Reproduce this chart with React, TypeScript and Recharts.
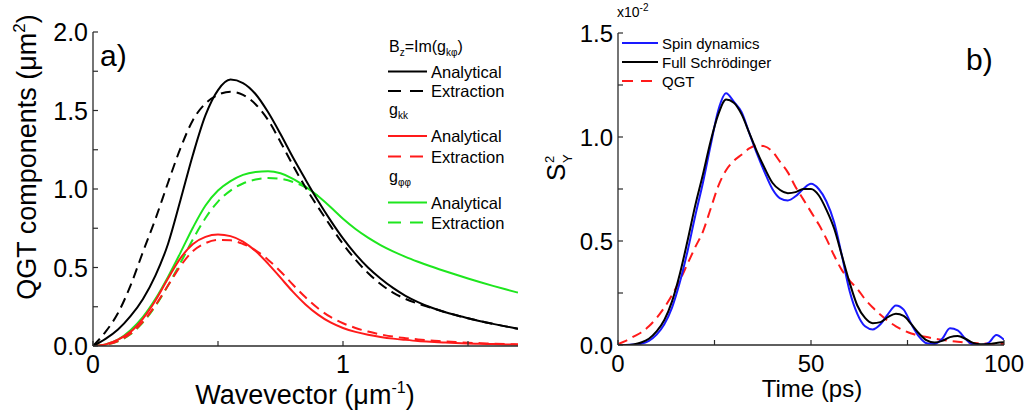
import { LineChart, Line, XAxis, YAxis } from 'recharts'

// panel a) wavevector grid (µm^-1)
const wavevector = [
  0, 0.05, 0.1, 0.15, 0.2, 0.25, 0.3, 0.35, 0.4, 0.45, 0.5, 0.55, 0.6, 0.65, 0.7, 0.75, 0.8, 0.85,
  0.9, 0.95, 1.0, 1.05, 1.1, 1.15, 1.2, 1.25, 1.3, 1.35, 1.4, 1.45, 1.5, 1.55, 1.6, 1.65, 1.7,
]
const bzAnalytical = [
  0, 0.045, 0.105, 0.19, 0.3, 0.45, 0.65, 0.93, 1.22, 1.47, 1.63, 1.697, 1.675, 1.605, 1.49, 1.35, 1.2,
  1.06, 0.925, 0.8, 0.685, 0.585, 0.5, 0.43, 0.37, 0.32, 0.28, 0.247, 0.22, 0.197, 0.177, 0.158, 0.141,
  0.125, 0.11,
]
const bzExtraction = [
  0, 0.09, 0.21, 0.385, 0.6, 0.81, 1.04, 1.26, 1.44, 1.545, 1.6, 1.62, 1.6, 1.54, 1.44, 1.3, 1.15,
  1.01, 0.885, 0.765, 0.65, 0.55, 0.465, 0.395, 0.34, 0.3, 0.27, 0.245, 0.22, 0.197, 0.177, 0.158,
  0.141, 0.125, 0.11,
]
const gkkAnalytical = [
  0, 0.01, 0.04, 0.09, 0.175, 0.29, 0.43, 0.56, 0.65, 0.695, 0.71, 0.7, 0.665, 0.605, 0.525, 0.435,
  0.345, 0.265, 0.2, 0.15, 0.115, 0.09, 0.072, 0.058, 0.047, 0.039, 0.032, 0.027, 0.023, 0.019, 0.016,
  0.014, 0.012, 0.01, 0.009,
]
const gkkExtraction = [
  0, 0.008, 0.032, 0.078, 0.155, 0.26, 0.385, 0.51, 0.605, 0.655, 0.675, 0.673, 0.65, 0.61, 0.55,
  0.475, 0.39, 0.31, 0.24, 0.185, 0.145, 0.115, 0.092, 0.074, 0.06, 0.05, 0.042, 0.035, 0.03, 0.025,
  0.021, 0.018, 0.015, 0.012, 0.01,
]
const gppAnalytical = [
  0, 0.01, 0.04, 0.1, 0.185, 0.3, 0.44, 0.595, 0.755, 0.895, 0.99, 1.05, 1.09, 1.108, 1.113, 1.1,
  1.065, 1.015, 0.955, 0.885, 0.81, 0.745, 0.69, 0.643, 0.603, 0.568, 0.537, 0.508, 0.481, 0.455, 0.43,
  0.406, 0.383, 0.361, 0.34,
]
const gppExtraction = [
  0, 0.008, 0.03, 0.075, 0.15, 0.255, 0.385, 0.53, 0.68, 0.815, 0.92, 0.99, 1.035, 1.06, 1.07, 1.065,
  1.045, 1.01, 0.955, null, null, null, null, null, null, null, null, null, null, null, null, null,
  null, null, null,
]

// panel b) time grid (ps), values in units of 1e-2
const time = [
  0, 2, 4, 6, 8, 10, 12, 14, 16, 18, 20, 22, 24, 26, 28, 30, 32, 34, 36, 38, 40, 42, 44, 46, 48, 50,
  52, 54, 56, 58, 60, 62, 64, 66, 68, 70, 72, 74, 76, 78, 80, 82, 84, 86, 88, 90, 92, 94, 96, 98, 100,
]
const spinDynamics = [
  0, 0, 0.002, 0.006, 0.02, 0.05, 0.1, 0.18, 0.3, 0.45, 0.62, 0.78, 0.96, 1.13, 1.21, 1.17, 1.12, 1.02,
  0.92, 0.83, 0.75, 0.705, 0.695, 0.715, 0.75, 0.775, 0.75, 0.69, 0.59, 0.43, 0.26, 0.15, 0.09, 0.075,
  0.1, 0.15, 0.19, 0.17, 0.1, 0.04, 0.008, 0.005, 0.03, 0.08, 0.07, 0.03, 0.002, 0, 0.01, 0.048, 0.025,
]
const fullSchrodinger = [
  0, 0, 0.003, 0.012, 0.03, 0.065, 0.12, 0.21, 0.34, 0.5, 0.67, 0.82, 0.98, 1.11, 1.18, 1.165, 1.11,
  1.02, 0.93, 0.85, 0.78, 0.745, 0.73, 0.735, 0.75, 0.75, 0.72, 0.65, 0.56, 0.43, 0.3, 0.19, 0.13,
  0.105, 0.11, 0.135, 0.15, 0.14, 0.1, 0.055, 0.022, 0.012, 0.02, 0.038, 0.043, 0.03, 0.01, 0.004,
  0.005, 0.01, 0.013,
]
const qgt = [
  0.005, 0.02, 0.04, 0.06, 0.09, 0.13, 0.18, 0.24, 0.31, 0.39, 0.47, 0.545, 0.655, 0.765, 0.84, 0.885,
  0.915, 0.945, 0.96, 0.955, 0.93, 0.88, 0.83, 0.76, 0.7, 0.64, 0.58, 0.51, 0.43, 0.36, 0.31, 0.27,
  0.22, 0.18, 0.145, 0.115, 0.09, 0.07, 0.055, 0.045, 0.038, 0.03, 0.025, 0.02, 0.016, 0.012, 0.01,
  0.008, 0.006, 0.005, 0.005,
]

const kTicks = [0, 0.5, 1, 1.5]
const kLabels = [0, 1]
const qgtTicks = [0, 0.25, 0.5, 0.75, 1, 1.25, 1.5, 1.75, 2]
const qgtLabels = [0, 0.5, 1, 1.5, 2]
const timeTicks = [0, 25, 50, 75, 100]
const timeLabels = [0, 50, 100]
const syTicks = [0, 0.25, 0.5, 0.75, 1, 1.25, 1.5]
const syLabels = [0, 0.5, 1, 1.5]

const leftRows = wavevector.map((k, i) => ({
  k,
  bzA: bzAnalytical[i],
  bzE: bzExtraction[i],
  kkA: gkkAnalytical[i],
  kkE: gkkExtraction[i],
  ppA: gppAnalytical[i],
  ppE: gppExtraction[i],
}))

const rightRows = time.map((t, i) => ({
  t,
  spin: spinDynamics[i],
  full: fullSchrodinger[i],
  qgt: qgt[i],
}))

const FONT = '"Liberation Sans", Arial, Helvetica, sans-serif'
const AXIS = '#2a2a2a'
const GREEN = '#1ee61e'
const RED = '#ff1a1a'
const BLUE = '#1a1aff'
const TICK = 5

const axisLine = { stroke: AXIS, strokeWidth: 1.3 }

const bottomTick = (labels: number[], fmt: (v: number) => string, size: number) => (p: any) => (
  <g>
    <line x1={p.x} y1={p.y} x2={p.x} y2={p.y - TICK} stroke={AXIS} strokeWidth={1.2} />
    {labels.includes(p.payload.value) && (
      <text x={p.x} y={p.y + 27} textAnchor="middle" fontSize={size} fontFamily={FONT} fill="#000">
        {fmt(p.payload.value)}
      </text>
    )}
  </g>
)

const topTick = (p: any) => (
  <line x1={p.x} y1={p.y} x2={p.x} y2={p.y + TICK} stroke={AXIS} strokeWidth={1.2} />
)

const leftTick = (labels: number[], size: number) => (p: any) => (
  <g>
    <line x1={p.x} y1={p.y} x2={p.x + TICK} y2={p.y} stroke={AXIS} strokeWidth={1.2} />
    {labels.includes(p.payload.value) && (
      <text x={p.x - 5} y={p.y + size * 0.36} textAnchor="end" fontSize={size} fontFamily={FONT} fill="#000">
        {p.payload.value.toFixed(1)}
      </text>
    )}
  </g>
)

const rightTick = (p: any) => (
  <line x1={p.x} y1={p.y} x2={p.x - TICK} y2={p.y} stroke={AXIS} strokeWidth={1.2} />
)

const legendLeft = [
  { y: 71.5, color: '#000', dash: undefined, label: 'Analytical' },
  { y: 91, color: '#000', dash: '13 9', label: 'Extraction' },
  { y: 136, color: RED, dash: undefined, label: 'Analytical' },
  { y: 156.5, color: RED, dash: '13 9', label: 'Extraction' },
  { y: 202.5, color: GREEN, dash: undefined, label: 'Analytical' },
  { y: 222.5, color: GREEN, dash: '13 9', label: 'Extraction' },
]

const legendRight = [
  { y: 43, color: BLUE, dash: undefined, label: 'Spin dynamics' },
  { y: 62, color: '#000', dash: undefined, label: 'Full Schrödinger' },
  { y: 81, color: RED, dash: '11 8', label: 'QGT' },
]

const App = () => {
  return (
    <div style={{ position: 'absolute', left: 0, top: 0, width: 1027, height: 416, background: '#fff' }}>
      <div style={{ position: 'absolute', left: 0, top: 0 }}>
        <LineChart width={520} height={416} data={leftRows} margin={{ top: 32, right: 2, left: 0, bottom: 0 }}>
          <XAxis
            dataKey="k"
            type="number"
            domain={[0, 1.7]}
            ticks={kTicks}
            interval={0}
            allowDataOverflow
            tickSize={0}
            tickMargin={0}
            tickLine={false}
            axisLine={axisLine}
            height={70}
            tick={bottomTick(kLabels, (v) => String(v), 25)}
          />
          <XAxis
            xAxisId="top"
            orientation="top"
            type="number"
            domain={[0, 1.7]}
            ticks={kTicks}
            interval={0}
            allowDataOverflow
            tickSize={0}
            tickMargin={0}
            tickLine={false}
            axisLine={axisLine}
            height={0}
            tick={topTick}
          />
          <YAxis
            type="number"
            domain={[0, 2]}
            ticks={qgtTicks}
            interval={0}
            allowDataOverflow
            tickSize={0}
            tickMargin={0}
            tickLine={false}
            axisLine={axisLine}
            width={93}
            tick={leftTick(qgtLabels, 25)}
          />
          <YAxis
            yAxisId="right"
            orientation="right"
            type="number"
            domain={[0, 2]}
            ticks={qgtTicks}
            interval={0}
            allowDataOverflow
            tickSize={0}
            tickMargin={0}
            tickLine={false}
            axisLine={axisLine}
            width={0}
            tick={rightTick}
          />
          <Line dataKey="ppA" type="monotone" stroke={GREEN} strokeWidth={2} dot={false} activeDot={false} isAnimationActive={false} />
          <Line dataKey="ppE" type="monotone" stroke={GREEN} strokeWidth={2} strokeDasharray="10 6" dot={false} activeDot={false} isAnimationActive={false} />
          <Line dataKey="kkA" type="monotone" stroke={RED} strokeWidth={2} dot={false} activeDot={false} isAnimationActive={false} />
          <Line dataKey="kkE" type="monotone" stroke={RED} strokeWidth={2} strokeDasharray="10 6" dot={false} activeDot={false} isAnimationActive={false} />
          <Line dataKey="bzA" type="monotone" stroke="#000" strokeWidth={2} dot={false} activeDot={false} isAnimationActive={false} />
          <Line dataKey="bzE" type="monotone" stroke="#000" strokeWidth={2} strokeDasharray="10 6" dot={false} activeDot={false} isAnimationActive={false} />
        </LineChart>
      </div>

      <div style={{ position: 'absolute', left: 520, top: 0 }}>
        <LineChart width={507} height={416} data={rightRows} margin={{ top: 33, right: 23, left: 0, bottom: 0 }}>
          <XAxis
            dataKey="t"
            type="number"
            domain={[0, 100]}
            ticks={timeTicks}
            interval={0}
            allowDataOverflow
            tickSize={0}
            tickMargin={0}
            tickLine={false}
            axisLine={axisLine}
            height={71}
            tick={bottomTick(timeLabels, (v) => String(v), 24)}
          />
          <XAxis
            xAxisId="top"
            orientation="top"
            type="number"
            domain={[0, 100]}
            ticks={timeTicks}
            interval={0}
            allowDataOverflow
            tickSize={0}
            tickMargin={0}
            tickLine={false}
            axisLine={axisLine}
            height={0}
            tick={topTick}
          />
          <YAxis
            type="number"
            domain={[0, 1.5]}
            ticks={syTicks}
            interval={0}
            allowDataOverflow
            tickSize={0}
            tickMargin={0}
            tickLine={false}
            axisLine={axisLine}
            width={98}
            tick={leftTick(syLabels, 24)}
          />
          <YAxis
            yAxisId="right"
            orientation="right"
            type="number"
            domain={[0, 1.5]}
            ticks={syTicks}
            interval={0}
            allowDataOverflow
            tickSize={0}
            tickMargin={0}
            tickLine={false}
            axisLine={axisLine}
            width={0}
            tick={rightTick}
          />
          <Line dataKey="qgt" type="monotone" stroke={RED} strokeWidth={2} strokeDasharray="10 6" dot={false} activeDot={false} isAnimationActive={false} />
          <Line dataKey="spin" type="monotone" stroke={BLUE} strokeWidth={2} dot={false} activeDot={false} isAnimationActive={false} />
          <Line dataKey="full" type="monotone" stroke="#000" strokeWidth={2} dot={false} activeDot={false} isAnimationActive={false} />
        </LineChart>
      </div>

      {/* labels, legends and annotations */}
      <svg
        width={1027}
        height={416}
        style={{ position: 'absolute', left: 0, top: 0, pointerEvents: 'none' }}
        fontFamily={FONT}
      >
        <text transform="translate(36,157) rotate(-90)" textAnchor="middle" fontSize={27} fill="#000">
          QGT components (μm<tspan dy={-11} fontSize={17}>2</tspan>
          <tspan dy={11}>)</tspan>
        </text>
        <text x={305} y={404} textAnchor="middle" fontSize={27} fill="#000">
          Wavevector (μm<tspan dy={-11} fontSize={16}>-1</tspan>
          <tspan dy={11}>)</tspan>
        </text>
        <text x={100} y={66} fontSize={30} fill="#000">a)</text>

        <text x={389} y={52} fontSize={16} fill="#000">
          B<tspan dy={4} fontSize={10}>z</tspan>
          <tspan dy={-4}>=Im(g</tspan>
          <tspan dy={4} fontSize={10}>kφ</tspan>
          <tspan dy={-4}>)</tspan>
        </text>
        <text x={389} y={115} fontSize={16} fill="#000">
          g<tspan dy={4} fontSize={10}>kk</tspan>
        </text>
        <text x={389} y={182} fontSize={16} fill="#000">
          g<tspan dy={4} fontSize={10}>φφ</tspan>
        </text>
        {legendLeft.map((d, i) => (
          <g key={i}>
            <line x1={388} y1={d.y} x2={427} y2={d.y} stroke={d.color} strokeWidth={2.2} strokeDasharray={d.dash} />
            <text x={431} y={d.y + 6} fontSize={16.5} fill="#000">{d.label}</text>
          </g>
        ))}

        {legendRight.map((d, i) => (
          <g key={i}>
            <line x1={622} y1={d.y} x2={658} y2={d.y} stroke={d.color} strokeWidth={2.2} strokeDasharray={d.dash} />
            <text x={662} y={d.y + 5.5} fontSize={15} fill="#000">{d.label}</text>
          </g>
        ))}
        <text x={966} y={70} fontSize={30} fill="#000">b)</text>
        <text x={617} y={17} fontSize={14} fill="#000">
          x10<tspan dy={-6} fontSize={10}>-2</tspan>
        </text>
        <text x={812} y={397} textAnchor="middle" fontSize={24} fill="#000">Time (ps)</text>
        <g transform="translate(565,181) rotate(-90)">
          <text x={0} y={0} fontSize={26} fill="#000">S</text>
          <text x={18} y={-11} fontSize={13} fill="#000">2</text>
          <text x={18} y={7} fontSize={13} fill="#000">Y</text>
        </g>
      </svg>
    </div>
  )
}

export default App
